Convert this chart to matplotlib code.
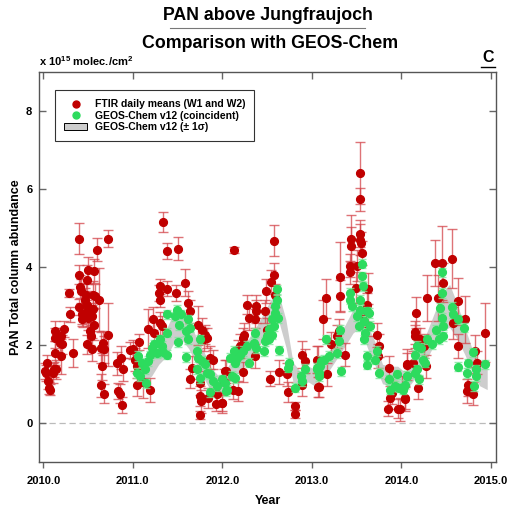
import matplotlib
matplotlib.use("Agg")
import matplotlib.pyplot as plt
from matplotlib.lines import Line2D
from matplotlib.patches import Patch

plt.rcParams['font.family'] = ['Liberation Sans', 'DejaVu Sans']
plt.rcParams['font.weight'] = 'bold'
plt.rcParams['mathtext.default'] = 'regular'

# ---------------- data ----------------
ftir_t = [2010.023, 2010.045, 2010.030, 2010.052, 2010.064, 2010.071, 2010.108, 2010.118, 2010.138, 2010.127,
          2010.130, 2010.135, 2010.183, 2010.194, 2010.202, 2010.209, 2010.228, 2010.283, 2010.295, 2010.336,
          2010.395, 2010.398, 2010.406, 2010.395, 2010.425, 2010.428, 2010.432, 2010.440, 2010.462, 2010.481,
          2010.492, 2010.488, 2010.492, 2010.500, 2010.503, 2010.518, 2010.529, 2010.525, 2010.492, 2010.544,
          2010.555, 2010.566, 2010.560, 2010.563, 2010.582, 2010.604, 2010.619, 2010.548, 2010.648, 2010.667,
          2010.678, 2010.656, 2010.648, 2010.678, 2010.723, 2010.723, 2010.827, 2010.865, 2010.890, 2010.835,
          2010.857, 2010.879, 2010.965,
          2011.341, 2011.386, 2011.509, 2011.583, 2011.304, 2011.386, 2011.297, 2011.483, 2011.300, 2011.620,
          2011.639, 2011.222, 2011.174, 2011.237, 2011.304, 2011.322, 2011.732, 2011.770, 2011.807, 2011.796,
          2011.073, 2011.006, 2011.025, 2011.043, 2011.043, 2011.118, 2011.192, 2011.639, 2011.658, 2011.751,
          2011.751, 2011.759, 2011.844, 2011.930, 2011.945, 2011.751, 2011.863, 2011.900, 2012.030, 2011.993,
          2011.833,
          2012.127, 2012.574, 2012.574, 2012.548, 2012.488, 2012.593, 2012.276, 2012.376, 2012.380, 2012.302,
          2012.365, 2012.481, 2012.499, 2012.239, 2012.232, 2012.201, 2012.175, 2012.369, 2012.041, 2012.015,
          2012.228, 2012.116, 2012.175, 2012.537, 2012.637, 2012.734, 2012.816, 2012.816, 2012.890, 2012.928,
          2013.069, 2013.077, 2012.723, 2012.890, 2011.997,
          2013.535, 2013.535, 2013.535, 2013.542, 2013.438, 2013.440, 2013.553, 2013.561, 2013.431, 2013.505,
          2013.423, 2013.319, 2013.319, 2013.162, 2013.125, 2013.497, 2013.628, 2013.617, 2013.568, 2013.300,
          2013.282, 2013.218, 2013.058, 2013.170, 2013.069, 2013.367, 2013.729, 2013.747, 2013.745, 2013.859,
          2014.064, 2013.878, 2013.851, 2013.963, 2014.038, 2014.008, 2013.896, 2013.628,
          2014.377, 2014.451, 2014.563, 2014.462, 2014.283, 2014.414, 2014.637, 2014.164, 2014.153, 2014.155,
          2014.712, 2014.581, 2014.637, 2014.935, 2014.823, 2014.842, 2014.749, 2014.730, 2014.805, 2014.060,
          2014.135, 2014.190, 2014.041, 2013.986, 2014.209, 2014.250, 2014.276]
ftir_v = [1.32, 1.54, 1.28, 1.07, 0.90, 0.85, 1.28, 1.37, 1.37, 2.35,
          2.18, 1.79, 2.05, 1.71, 2.22, 2.01, 2.41, 3.33, 2.78, 1.79,
          4.72, 3.80, 3.49, 2.97, 3.38, 2.78, 2.67, 2.75, 3.16, 3.29,
          3.65, 3.03, 2.86, 3.91, 2.69, 2.78, 2.22, 2.35, 2.01, 2.73,
          2.91, 3.89, 3.29, 2.52, 3.25, 4.44, 3.16, 1.88, 1.92, 2.05,
          1.88, 1.45, 0.96, 0.75, 4.72, 2.26, 1.52, 1.67, 1.37, 0.81,
          0.75, 0.45, 1.86,
          5.15, 4.40, 4.47, 3.59, 3.50, 3.44, 3.33, 3.33, 3.16, 3.08,
          2.86, 2.67, 2.41, 2.29, 2.55, 2.48, 2.50, 2.39, 2.26, 2.14,
          2.07, 1.88, 1.62, 1.45, 0.98, 1.04, 0.84, 1.13, 1.41, 1.02,
          0.68, 0.55, 0.64, 0.49, 0.73, 0.19, 1.67, 1.62, 1.32, 0.51,
          2.18,
          4.43, 4.67, 3.80, 3.61, 3.38, 3.27, 3.03, 2.99, 2.86, 2.69,
          2.67, 2.86, 2.39, 2.26, 2.18, 1.97, 1.88, 1.71, 1.32, 1.07,
          1.30, 0.85, 0.81, 1.13, 1.30, 0.79, 0.43, 0.23, 1.75, 1.58,
          1.62, 0.92, 1.24, 0.98, 0.51,
          6.41, 5.73, 4.85, 4.70, 4.72, 4.53, 4.60, 4.36, 4.03, 4.03,
          3.86, 3.74, 3.26, 3.20, 2.65, 3.46, 3.44, 3.03, 2.78, 2.35,
          2.22, 2.03, 1.62, 1.24, 0.92, 1.75, 2.25, 1.98, 1.71, 1.41,
          1.49, 0.64, 0.36, 0.36, 0.64, 0.90, 0.77, 2.52,
          4.10, 4.10, 4.21, 3.59, 3.20, 3.20, 3.12, 2.82, 2.32, 2.22,
          2.65, 2.56, 1.97, 2.31, 1.84, 1.54, 0.98, 0.81, 0.75, 1.50,
          1.54, 0.90, 0.61, 0.34, 2.14, 1.97, 1.45]
ftir_err = [0.2, 0.2, 0.2, 0.2, 0.15, 0.15, 0.25, 0.2, 0.25, 0.25,
            0.25, 0.3, 0.3, 0.45, 0.2, 0.25, 0.2, 0.1, 0.2, 0.35,
            0.4, 0.25, 0.3, 0.2, 0.3, 0.25, 0.2, 0.3, 0.3, 0.3,
            0.4, 0.35, 0.3, 0.35, 0.3, 0.3, 0.3, 0.35, 0.25, 0.3,
            0.35, 0.3, 0.35, 0.4, 0.3, 0.3, 0.8, 0.3, 0.4, 0.3,
            0.35, 0.35, 0.3, 0.25, 0.22, 0.8, 0.3, 0.3, 0.3, 0.2,
            0.25, 0.2, 0.2,
            0.25, 0.2, 0.3, 0.35, 0.2, 0.2, 0.2, 0.2, 0.2, 0.3,
            0.3, 0.3, 0.5, 0.35, 0.3, 0.25, 0.5, 0.3, 0.25, 0.3,
            0.2, 0.25, 0.3, 0.3, 0.3, 0.4, 0.3, 0.25, 0.3, 0.3,
            0.25, 0.3, 0.25, 0.2, 0.25, 0.1, 0.3, 0.25, 0.3, 0.25,
            0.25,
            0.08, 0.4, 0.3, 0.3, 0.3, 0.3, 0.25, 0.3, 0.3, 0.3,
            0.25, 0.3, 0.3, 0.3, 0.25, 0.3, 0.25, 0.3, 0.3, 0.3,
            0.25, 0.25, 0.25, 0.2, 0.3, 0.25, 0.1, 0.1, 0.35, 0.3,
            0.35, 0.25, 0.3, 0.3, 0.2,
            0.8, 0.3, 0.35, 0.4, 0.6, 0.5, 0.3, 0.3, 0.3, 0.4,
            0.3, 0.9, 0.4, 0.5, 0.5, 0.4, 0.4, 0.3, 0.3, 0.3,
            0.3, 0.3, 0.35, 0.3, 0.25, 0.3, 0.3, 0.3, 0.3, 0.3,
            0.3, 0.3, 0.2, 0.25, 0.3, 0.3, 0.3, 0.3,
            0.6, 0.95, 0.75, 0.5, 0.6, 0.6, 0.6, 0.4, 0.3, 0.3,
            0.6, 0.4, 0.3, 0.75, 0.4, 0.3, 0.3, 0.3, 0.3, 0.4,
            0.3, 0.3, 0.3, 0.3, 0.3, 0.3, 0.3]

geos_t = [2011.386, 2011.490, 2011.535, 2011.472, 2011.620, 2011.520, 2011.639, 2011.595, 2011.386, 2011.622,
          2011.509, 2011.751, 2011.285, 2011.237, 2011.211, 2011.322, 2011.341, 2011.267, 2011.192, 2011.386,
          2011.062, 2011.099, 2011.174, 2011.136, 2011.043, 2011.080, 2011.148, 2011.594, 2011.714, 2011.733,
          2011.770, 2011.714, 2011.807, 2011.751, 2011.826, 2011.893, 2011.863, 2011.937, 2011.993, 2011.863,
          2012.049, 2011.304,
          2012.611, 2012.612, 2012.593, 2012.585, 2012.622, 2012.555, 2012.518, 2012.574, 2012.555, 2012.499,
          2012.518, 2012.473, 2012.369, 2012.350, 2012.376, 2012.276, 2012.228, 2012.201, 2012.127, 2012.164,
          2012.146, 2012.090, 2012.302, 2012.462, 2012.637, 2012.108, 2012.146, 2012.034, 2012.041, 2012.741,
          2012.734, 2012.816, 2012.883, 2012.890, 2012.928, 2013.058, 2013.077, 2013.106,
          2013.561, 2013.561, 2013.568, 2013.431, 2013.431, 2013.449, 2013.542, 2013.542, 2013.505, 2013.617,
          2013.635, 2013.580, 2013.524, 2013.598, 2013.654, 2013.580, 2013.319, 2013.307, 2013.159, 2013.282,
          2013.188, 2013.133, 2013.095, 2013.058, 2013.084, 2013.330, 2013.729, 2013.710, 2013.617, 2013.617,
          2013.747, 2013.859, 2013.878, 2013.952, 2013.970, 2014.064, 2013.933,
          2014.451, 2014.451, 2014.432, 2014.451, 2014.462, 2014.388, 2014.470, 2014.425, 2014.563, 2014.581,
          2014.637, 2014.701, 2014.339, 2014.283, 2014.216, 2014.172, 2014.153, 2014.246, 2014.265, 2014.172,
          2014.153, 2014.201, 2014.060, 2014.041, 2014.015, 2014.797, 2014.749, 2014.730, 2014.834, 2014.834,
          2014.812, 2014.935, 2014.637]
geos_v = [2.78, 2.89, 2.78, 2.73, 2.65, 2.50, 2.44, 2.35, 2.31, 2.14,
          2.07, 2.14, 2.05, 2.01, 1.92, 1.97, 1.81, 1.79, 1.73, 1.75,
          1.71, 1.54, 1.58, 1.37, 1.28, 1.20, 1.01, 1.69, 1.84, 1.67,
          1.58, 1.37, 1.50, 1.15, 1.28, 1.07, 1.24, 0.94, 1.11, 0.78,
          0.85, 2.14,
          3.42, 3.16, 2.99, 2.82, 2.69, 2.65, 2.41, 2.48, 2.26, 2.22,
          2.14, 2.09, 2.31, 2.05, 1.92, 1.98, 1.84, 1.75, 1.84, 1.67,
          1.54, 1.67, 1.54, 1.84, 1.86, 1.20, 1.15, 1.02, 0.81, 1.54,
          1.41, 0.90, 1.20, 1.07, 1.38, 1.41, 1.28, 1.58,
          4.08, 3.76, 3.50, 3.33, 3.16, 2.99, 3.16, 2.90, 2.73, 2.86,
          2.82, 2.61, 2.48, 2.31, 2.48, 2.14, 2.39, 2.09, 2.14, 1.79,
          1.71, 1.62, 1.45, 1.37, 1.20, 1.32, 1.84, 1.62, 1.71, 1.49,
          1.28, 1.11, 0.85, 1.24, 0.90, 1.20, 0.94,
          3.86, 3.33, 2.95, 2.69, 2.49, 2.39, 2.22, 2.14, 2.97, 2.80,
          2.65, 2.44, 2.01, 2.14, 1.92, 1.97, 1.75, 1.62, 1.54, 1.37,
          1.28, 1.11, 1.20, 0.98, 0.85, 1.81, 1.52, 1.28, 1.37, 1.20,
          0.94, 1.50, 1.44]
geos_err = 0.12

# monthly GEOS-Chem mean +/- 1 sigma (2011-2014)
band_t = [2011.04, 2011.125, 2011.21, 2011.29, 2011.375, 2011.46, 2011.54, 2011.625, 2011.71, 2011.79, 2011.875, 2011.96,
          2012.04, 2012.125, 2012.21, 2012.29, 2012.375, 2012.46, 2012.54, 2012.625, 2012.71, 2012.79, 2012.875, 2012.96,
          2013.04, 2013.125, 2013.21, 2013.29, 2013.375, 2013.46, 2013.54, 2013.625, 2013.71, 2013.79, 2013.875, 2013.96,
          2014.04, 2014.125, 2014.21, 2014.29, 2014.375, 2014.46, 2014.54, 2014.625, 2014.71, 2014.79, 2014.875, 2014.96]
band_lo = [0.85, 1.05, 1.2, 1.5, 1.7, 2.05, 2.15, 1.9, 1.5, 1.15, 0.8, 0.7,
           0.95, 1.2, 1.35, 1.55, 1.85, 2.2, 2.45, 2.65, 1.95, 1.05, 0.9, 1.05,
           0.93, 1.15, 1.4, 1.68, 1.98, 2.3, 2.45, 1.9, 1.45, 1.0, 0.95, 0.95,
           0.8, 1.05, 1.3, 1.65, 2.05, 2.35, 2.45, 2.15, 1.75, 1.3, 0.95, 0.85]
band_hi = [1.35, 1.55, 1.8, 2.1, 2.4, 2.85, 2.95, 2.6, 2.2, 1.85, 1.4, 1.2,
           1.35, 1.7, 1.95, 2.15, 2.45, 2.8, 3.15, 3.35, 2.65, 1.55, 1.3, 1.45,
           1.37, 1.65, 1.9, 2.22, 2.52, 2.9, 3.05, 2.5, 2.05, 1.5, 1.45, 1.45,
           1.3, 1.55, 1.9, 2.35, 2.85, 3.35, 3.55, 3.05, 2.45, 1.9, 1.55, 1.45]

years = [2010.0, 2011.0, 2012.0, 2013.0, 2014.0, 2015.0]
yticks = [0, 2, 4, 6, 8]

# ---------------- figure ----------------
W, H = 510, 507
fig = plt.figure(figsize=(W / 100, H / 100), dpi=100)
L, R, T, B = 39.3, 495.7, 72.0, 461.7
ax = fig.add_axes([L / W, 1 - B / H, (R - L) / W, (B - T) / H])

red = '#C00000'
red_err = '#D4444A'
green = '#2DDB5E'
green_err = '#7EE89A'

ax.fill_between(band_t, band_lo, band_hi, color='#CDCDCD', lw=0, zorder=1)
ax.axhline(0, color='#BBBBBB', ls=(0, (5, 3)), lw=0.9, zorder=0)

ax.errorbar(ftir_t, ftir_v, yerr=ftir_err, fmt='none', ecolor=red_err, elinewidth=1.0,
            capsize=3.5, capthick=1.0, alpha=0.75, zorder=2)
ax.plot(ftir_t, ftir_v, 'o', color=red, ms=5.6, mec=red, zorder=3)
ax.errorbar(geos_t, geos_v, yerr=geos_err, fmt='none', ecolor=green_err, elinewidth=1.0,
            capsize=3.0, capthick=1.0, alpha=0.8, zorder=4)
ax.plot(geos_t, geos_v, 'o', color=green, ms=5.6, mec=green, zorder=5)

ax.set_xlim(2009.955, 2015.055)
ax.set_ylim(-1.0, 9.0)
ax.set_xticks(years)
ax.set_xticklabels([f'{y:.1f}' for y in years], fontsize=8, fontweight='bold')
ax.set_yticks(yticks)
ax.set_yticklabels([str(v) for v in yticks], fontsize=8, fontweight='bold')
ax.tick_params(axis='x', which='both', direction='out', length=4, width=1, color='#666666',
               pad=6, top=False)
ax.tick_params(axis='y', which='both', direction='in', length=5, width=1, color='#666666',
               pad=5, right=True)
ax_top = ax.secondary_xaxis('top')
ax_top.set_xticks(years)
ax_top.set_xticklabels([])
ax_top.tick_params(direction='in', length=5, width=1, color='#666666')
for s in ax.spines.values():
    s.set_color('#555555')
    s.set_linewidth(1.0)
ax_top.spines['top'].set_visible(False)

ax.set_xlabel('Year', fontsize=9, fontweight='bold', labelpad=7)
ax.set_ylabel('PAN Total column abundance', fontsize=9, fontweight='bold', labelpad=3)

# titles
fig.text(268 / W, 1 - 15 / H, 'PAN above Jungfraujoch', ha='center', va='center',
         fontsize=12.8, fontweight='bold')
fig.add_artist(Line2D([170 / W, 365 / W], [1 - 28 / H, 1 - 28 / H], color='#777777', lw=0.8))
fig.text(270 / W, 1 - 44 / H, 'Comparison with GEOS-Chem', ha='center', va='center',
         fontsize=12.8, fontweight='bold')
fig.text(39 / W, 1 - 61 / H, r'x 10$^{15}$ molec./cm$^{2}$', ha='left', va='center',
         fontsize=8, fontweight='bold')
fig.text(488 / W, 1 - 58 / H, 'C', ha='center', va='center', fontsize=11.5, fontweight='bold')
fig.add_artist(Line2D([481 / W, 495 / W], [1 - 67 / H, 1 - 67 / H], color='black', lw=1.0))

# legend
handles = [Line2D([], [], marker='o', color=red, ls='', ms=5),
           Line2D([], [], marker='o', color=green, ls='', ms=5),
           Patch(facecolor='#CDCDCD', edgecolor='black', lw=0.7)]
labels = ['FTIR daily means (W1 and W2)', 'GEOS-Chem v12 (coincident)', 'GEOS-Chem v12 (± 1σ)']
leg = ax.legend(handles, labels, loc='upper left', bbox_to_anchor=((55 - L) / (R - L), (B - 90) / (B - T)),
                borderaxespad=0, frameon=True, fancybox=False, edgecolor='black',
                prop={'size': 7.5, 'weight': 'bold'}, handlelength=2.2, handletextpad=0.7,
                labelspacing=0.12, borderpad=0.9)
leg.get_frame().set_linewidth(0.8)

fig.savefig('out.png', dpi=100)
